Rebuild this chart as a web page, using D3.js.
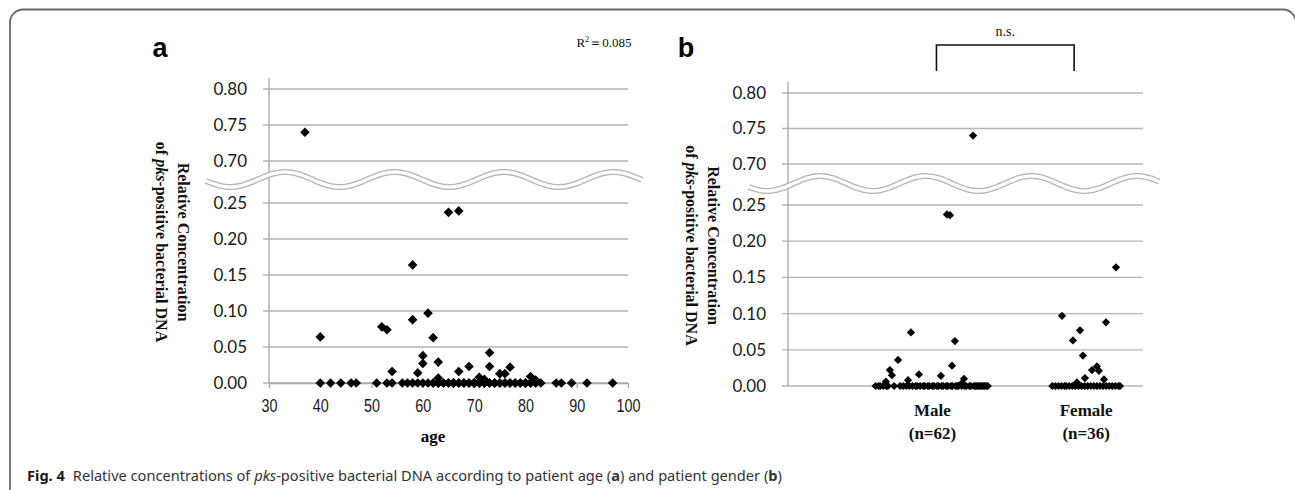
<!DOCTYPE html>
<html>
<head>
<meta charset="utf-8">
<script src="https://cdn.jsdelivr.net/npm/d3@7"></script>
<style>
  body { margin: 0; background: #fff; }
  svg { display: block; }
  .tick text { fill: #1a1a1a; }
</style>
</head>
<body>
<div id="chart"></div>
<script>
// panel a: age vs concentration
const ageA = [37, 40, 52, 53, 54, 58, 58, 59, 60, 60, 61, 62, 63, 63, 65, 67, 67, 69, 71, 72, 73, 73, 75, 76, 77, 81, 82,
  40, 42, 44, 46, 47, 51, 53, 54, 56, 57, 58, 59, 60, 61,
  62, 62, 63, 63, 63, 64, 64, 65, 65, 66, 66, 66, 67, 67, 68, 68, 68, 69, 69, 70, 70, 70, 70,
  71, 71, 71, 72, 72, 72, 73, 73, 74, 74, 74, 75, 75, 76, 76, 77, 77, 78, 78, 79, 79,
  80, 80, 80, 81, 81, 82, 82, 83,
  86, 87, 89, 92, 97];
const concA = [0.740, 0.064, 0.078, 0.074, 0.016, 0.164, 0.088, 0.014, 0.038, 0.027, 0.097, 0.063, 0.029, 0.007,
  0.237, 0.239, 0.016, 0.023, 0.008, 0.005, 0.042, 0.023, 0.013, 0.013, 0.022, 0.009, 0.004];
while (concA.length < ageA.length) concA.push(0);

// panel b: position within category (1 = Male, 2 = Female) and concentration
const maleX = [0.697, 0.723, 0.736, 0.776, 0.841, 0.860, 0.912, 1.055, 1.094, 1.114, 1.127, 1.146, 1.192, 1.205, 1.264,
  0.63, 0.65, 0.66, 0.68, 0.70, 0.71, 0.75, 0.79, 0.81, 0.83, 0.85, 0.87, 0.89, 0.90, 0.92, 0.94,
  0.95, 0.97, 0.98, 1.00, 1.01, 1.03, 1.04, 1.06, 1.07, 1.09, 1.10, 1.12, 1.13, 1.15, 1.16, 1.17,
  1.19, 1.21, 1.22, 1.24, 1.25, 1.27, 1.28, 1.29, 1.30, 1.31, 1.32, 1.33, 1.34, 1.35, 1.36];
const maleY = [0.006, 0.022, 0.015, 0.036, 0.008, 0.074, 0.016, 0.014, 0.237, 0.236, 0.028, 0.062, 0.004, 0.010, 0.740];
while (maleY.length < maleX.length) maleY.push(0);

const femaleX = [1.843, 1.914, 1.940, 1.960, 1.979, 1.992, 2.038, 2.070, 2.083, 2.116, 2.129, 2.194,
  1.78, 1.80, 1.82, 1.84, 1.86, 1.87, 1.89, 1.91, 1.93, 1.95, 1.97, 1.99,
  2.01, 2.03, 2.05, 2.07, 2.09, 2.11, 2.13, 2.15, 2.17, 2.19, 2.21, 2.22];
const femaleY = [0.097, 0.063, 0.005, 0.077, 0.042, 0.011, 0.022, 0.027, 0.021, 0.009, 0.088, 0.164];
while (femaleY.length < femaleX.length) femaleY.push(0);

const groups = [
  { pos: 1, name: "Male", n: "(n=62)" },
  { pos: 2, name: "Female", n: "(n=36)" }
];

const upperTicks = [0.70, 0.75, 0.80];
const lowerTicks = [0.00, 0.05, 0.10, 0.15, 0.20, 0.25];
const ageTicks = [30, 40, 50, 60, 70, 80, 90, 100];

const W = 1295, H = 490;
const svg = d3.select("#chart").append("svg").attr("width", W).attr("height", H);

// figure frame
svg.append("rect")
  .attr("x", 10).attr("y", 9.5).attr("width", 1286).attr("height", 520)
  .attr("rx", 13)
  .attr("fill", "none").attr("stroke", "#6a6a6a").attr("stroke-width", 1.8);

const gridColor = "#b5b5b5";
const fmt = d3.format(".2f");

function brokenY(upRange, lowRange) {
  const up = d3.scaleLinear().domain([0.70, 0.80]).range(upRange);
  const low = d3.scaleLinear().domain([0, 0.25]).range(lowRange);
  const f = v => v >= 0.5 ? up(v) : low(v);
  f.up = up; f.low = low;
  return f;
}

function drawPanel(g, y, x0, x1, titleX1, titleX2) {
  // gridlines with stubs
  const all = upperTicks.map(v => y.up(v)).concat(lowerTicks.map(v => y.low(v)));
  g.selectAll("line.grid").data(all).enter().append("line")
    .attr("x1", x0 - 6).attr("x2", x1)
    .attr("y1", d => d).attr("y2", d => d)
    .attr("stroke", gridColor).attr("stroke-width", 1.3);

  // axis labels
  [y.up, y.low].forEach((sc, i) => {
    const ax = g.append("g").attr("transform", `translate(${x0},0)`)
      .call(d3.axisLeft(sc).tickValues(i === 0 ? upperTicks : lowerTicks)
        .tickFormat(fmt).tickSize(0).tickPadding(22));
    ax.select(".domain").remove();
    ax.selectAll("text").attr("font-family", "Lato, 'Open Sans', sans-serif").attr("font-size", 17);
  });

  // vertical axis line
  g.append("line")
    .attr("x1", x0).attr("x2", x0).attr("y1", y.up(0.80) - 11).attr("y2", y.low(0))
    .attr("stroke", "#a8a8a8").attr("stroke-width", 1.3);

  // y title
  const cy = (y.up(0.80) + y.low(0)) / 2 + 6;
  const t = g.append("g")
    .attr("font-family", "'Liberation Serif', 'Times New Roman', serif")
    .attr("font-weight", "bold").attr("font-size", 16).attr("fill", "#111")
    .attr("text-anchor", "middle");
  t.append("text").attr("transform", `translate(${titleX1},${cy}) rotate(90)`)
    .text("Relative Concentration");
  const t2 = t.append("text").attr("transform", `translate(${titleX2},${cy}) rotate(90)`);
  t2.append("tspan").text("of ");
  t2.append("tspan").attr("font-style", "italic").text("pks");
  t2.append("tspan").text("-positive bacterial DNA");
}

function drawBreak(g, xs, xe, cy, peakX, period) {
  const pts = d3.range(xs, xe + 1, 2).map(x => [x, cy - 7.5 * Math.cos(2 * Math.PI * (x - peakX) / period)]);
  const line = d3.line().curve(d3.curveBasis);
  g.append("path").attr("d", line(pts)).attr("fill", "none")
    .attr("stroke", "#b4b4b4").attr("stroke-width", 6);
  g.append("path").attr("d", line(pts)).attr("fill", "none")
    .attr("stroke", "#fff").attr("stroke-width", 3.4);
}

const diamond = s => d3.symbol().type(d3.symbolSquare).size(s);

// ---------- panel a ----------
const ga = svg.append("g");
const xA = d3.scaleLinear().domain([30, 100]).range([269, 628]);
const yA = brokenY([161, 89], [383, 203]);
drawPanel(ga, yA, 269, 628, 178, 156);

const xAxis = ga.append("g").attr("transform", `translate(0,${yA.low(0)})`)
  .call(d3.axisBottom(xA).tickValues(ageTicks).tickSizeInner(5).tickSizeOuter(0).tickPadding(11));
xAxis.select(".domain").attr("stroke", "#a8a8a8").attr("stroke-width", 1.3);
xAxis.selectAll(".tick line").attr("stroke", "#a8a8a8").attr("stroke-width", 1.3);
xAxis.selectAll("text")
  .attr("font-family", "'Liberation Sans', Arial, sans-serif")
  .attr("font-size", 18)
  .attr("transform", "scale(0.8,1)");

drawBreak(ga, 206, 642, 179.5, 285, 109.5);

ga.selectAll("path.pt").data(ageA.map((a, i) => [a, concA[i]])).enter().append("path")
  .attr("d", diamond(46))
  .attr("transform", d => `translate(${xA(d[0])},${yA(d[1])}) rotate(45)`)
  .attr("fill", "#000");

ga.append("text").attr("x", 433).attr("y", 442).attr("text-anchor", "middle")
  .attr("font-family", "'Liberation Serif', serif").attr("font-weight", "bold").attr("font-size", 17)
  .text("age");

ga.append("text").attr("x", 160).attr("y", 57).attr("text-anchor", "middle")
  .attr("font-family", "'Liberation Sans', Arial, sans-serif").attr("font-weight", "bold").attr("font-size", 27)
  .text("a");

const r2 = ga.append("text").attr("x", 604).attr("y", 47).attr("text-anchor", "middle")
  .attr("font-family", "'Liberation Serif', serif").attr("font-size", 13).attr("fill", "#111");
r2.append("tspan").text("R");
r2.append("tspan").attr("font-size", 8.5).attr("dy", -5).text("2");
r2.append("tspan").attr("dy", 5).text("＝0.085");

// ---------- panel b ----------
const gb = svg.append("g");
const xB = d3.scaleLinear().domain([0.06, 2.37]).range([788, 1143]);
const yB = brokenY([164, 93], [386, 205]);
drawPanel(gb, yB, 788, 1143, 708, 686);
drawBreak(gb, 749, 1160, 183.5, 820, 105.7);

const ptsB = maleX.map((x, i) => [x, maleY[i]]).concat(femaleX.map((x, i) => [x, femaleY[i]]));
gb.selectAll("path.pt").data(ptsB).enter().append("path")
  .attr("d", diamond(34))
  .attr("transform", d => `translate(${xB(d[0])},${yB(d[1])}) rotate(45)`)
  .attr("fill", "#000");

const cat = gb.selectAll("text.cat").data(groups).enter().append("text")
  .attr("text-anchor", "middle")
  .attr("font-family", "'Liberation Serif', serif").attr("font-weight", "bold").attr("font-size", 17)
  .attr("fill", "#111");
cat.append("tspan").attr("x", d => xB(d.pos)).attr("y", 416).text(d => d.name);
cat.append("tspan").attr("x", d => xB(d.pos)).attr("y", 439).text(d => d.n);

// significance bracket
const bx1 = xB(1) + 4, bx2 = xB(2) - 12;
gb.append("path")
  .attr("d", `M${bx1},71V45H${bx2}V71`)
  .attr("fill", "none").attr("stroke", "#111").attr("stroke-width", 1.6);
gb.append("text").attr("x", (bx1 + bx2) / 2).attr("y", 36).attr("text-anchor", "middle")
  .attr("font-family", "'Liberation Serif', serif").attr("font-size", 14).attr("fill", "#111")
  .text("n.s.");

gb.append("text").attr("x", 686).attr("y", 57).attr("text-anchor", "middle")
  .attr("font-family", "'Liberation Sans', Arial, sans-serif").attr("font-weight", "bold").attr("font-size", 27)
  .text("b");

// ---------- caption ----------
const cap = svg.append("text").attr("x", 27).attr("y", 481)
  .attr("font-family", "'Noto Sans', 'Open Sans', sans-serif").attr("font-size", 14.6).attr("fill", "#333");
cap.append("tspan").attr("font-weight", "bold").attr("fill", "#1a1a1a").text("Fig. 4");
cap.append("tspan").attr("dx", 8).text("Relative concentrations of ");
cap.append("tspan").attr("font-style", "italic").text("pks");
cap.append("tspan").text("-positive bacterial DNA according to patient age (");
cap.append("tspan").attr("font-weight", "bold").text("a");
cap.append("tspan").text(") and patient gender (");
cap.append("tspan").attr("font-weight", "bold").text("b");
cap.append("tspan").text(")");
</script>
</body>
</html>
